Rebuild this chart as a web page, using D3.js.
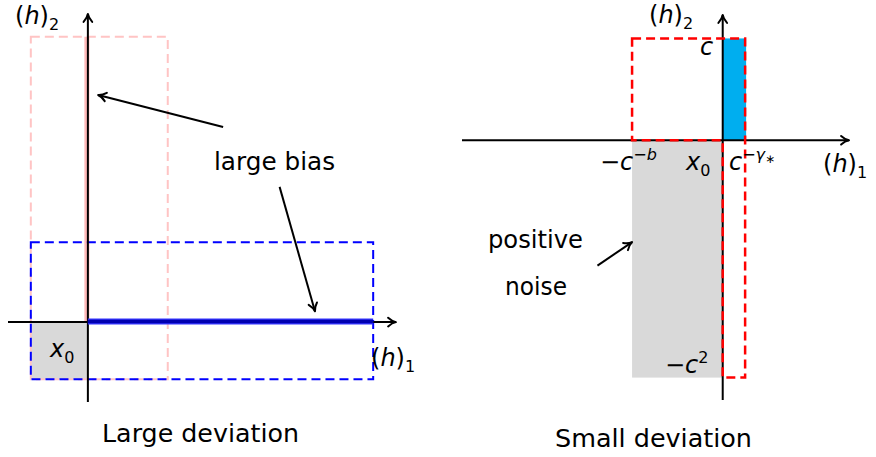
<!DOCTYPE html>
<html><head><meta charset="utf-8">
<script src="https://cdn.jsdelivr.net/npm/d3@7"></script>
<style>
body{margin:0;background:#fff}
svg{display:block}
</style>
</head><body>
<svg id="c" width="876" height="457"></svg>
<script>
// ---------- data (diagram values, in each panel's own units) ----------
// Left panel "Large deviation": unit = side of the x0 box
const leftAxisDomain = [-1.4, 5.4];
const leftGrayBox  = [-1, 0, -1, 0];     // [x0, x1, y0, y1]
const leftBlueBox  = [-1, 5, -1, 1.4];
const leftPinkBox  = [-1, 1.4, -1, 5];
const leftBlueLine = [0, 5];             // on (h)_1 axis
const leftPinkLine = [0, 5];             // on (h)_2 axis
const leftArrows = [[[2.37, 3.42], [0.18, 3.98]], [[3.36, 2.37], [3.98, 0.19]]];

// Right panel "Small deviation": unit = c
const rightAxisX = [-2.56, 1.24];
const rightAxisY = [-2.55, 1.23];
const cVal = 1, negCb = -0.89, cGamma = 0.22, negC2 = -2.33;
const rightArrows = [[[-1.23, -1.23], [-0.89, -1.0]]];

const captions = ["Large deviation", "Small deviation"];

// ---------- drawing ----------
const svg = d3.select("#c");
const FONT = "'DejaVu Sans', 'Liberation Sans', sans-serif";
const FS = 24, FSS = 16;

function arrowHead(g, x1, y1, x2, y2, color, w) {
  const a = Math.atan2(y2 - y1, x2 - x1), L = 9, th = 0.5;
  const p = (ang) => [x2 - L * Math.cos(a + ang), y2 - L * Math.sin(a + ang)];
  const l = p(th), r = p(-th);
  const c1 = [x2 - 0.45 * L * Math.cos(a + th * 0.35), y2 - 0.45 * L * Math.sin(a + th * 0.35)];
  const c2 = [x2 - 0.45 * L * Math.cos(a - th * 0.35), y2 - 0.45 * L * Math.sin(a - th * 0.35)];
  g.append("path")
    .attr("d", `M${l[0]},${l[1]} Q${c1[0]},${c1[1]} ${x2},${y2} Q${c2[0]},${c2[1]} ${r[0]},${r[1]}`)
    .attr("fill", "none").attr("stroke", color).attr("stroke-width", w)
    .attr("stroke-linecap", "round").attr("stroke-linejoin", "round");
}
function arrow(g, x1, y1, x2, y2, w = 2) {
  g.append("line").attr("x1", x1).attr("y1", y1).attr("x2", x2).attr("y2", y2)
    .attr("stroke", "#000").attr("stroke-width", w);
  arrowHead(g, x1, y1, x2, y2, "#000", w);
}
function mathLabel(g, x, y, parts) {
  const t = g.append("text").attr("x", x).attr("y", y).attr("font-size", FS)
    .style("font-family", FONT).attr("fill", "#000");
  let cur = 0;
  parts.forEach(([s, st]) => {
    let off = 0, size = FS, it = false;
    if (st === "i") it = true;
    if (st === "sub" || st === "subi") { off = 6; size = FSS; it = st === "subi"; }
    if (st === "sup" || st === "supi") { off = -10; size = FSS; it = st === "supi"; }
    if (st === "ss") { off = -7; size = 12; }
    const sp = t.append("tspan").attr("dy", off - cur).attr("font-size", size).text(s);
    if (it) sp.attr("font-style", "italic");
    cur = off;
  });
  return t;
}
function plainText(g, x, y, s, len) {
  g.append("text").attr("x", x).attr("y", y).attr("font-size", FS)
    .style("font-family", FONT).attr("fill", "#000")
    .attr("textLength", len).attr("lengthAdjust", "spacingAndGlyphs").text(s);
}
function rectPath(x, y, b) {
  const x0 = x(b[0]), x1 = x(b[1]), y0 = y(b[2]), y1 = y(b[3]);
  return `M${x0},${y1}H${x1}V${y0}H${x0}Z`;
}

// ----- Left panel -----
{
  const x = d3.scaleLinear().domain(leftAxisDomain).range([8, 396]);
  const y = d3.scaleLinear().domain(leftAxisDomain).range([402, 14]);
  const g = svg.append("g");
  g.append("rect").attr("x", x(leftGrayBox[0])).attr("y", y(leftGrayBox[3]))
    .attr("width", x(leftGrayBox[1]) - x(leftGrayBox[0]))
    .attr("height", y(leftGrayBox[2]) - y(leftGrayBox[3])).attr("fill", "#d9d9d9");
  g.append("path").attr("d", rectPath(x, y, leftPinkBox)).attr("fill", "none")
    .attr("stroke", "#ffc4c4").attr("stroke-width", 2).attr("stroke-dasharray", "9,5");
  g.append("line").attr("x1", x(0) - 1).attr("x2", x(0) - 1)
    .attr("y1", y(leftPinkLine[0])).attr("y2", y(leftPinkLine[1]))
    .attr("stroke", "#ffb8b8").attr("stroke-width", 5);
  g.append("path").attr("d", rectPath(x, y, leftBlueBox)).attr("fill", "none")
    .attr("stroke", "#0000ff").attr("stroke-width", 2).attr("stroke-dasharray", "9,5");
  arrow(g, x(leftAxisDomain[0]), y(0), x(leftAxisDomain[1]), y(0));
  arrow(g, x(0), y(leftAxisDomain[0]), x(0), y(leftAxisDomain[1]));
  g.append("line").attr("x1", x(leftBlueLine[0])).attr("x2", x(leftBlueLine[1]))
    .attr("y1", y(0) - 0.5).attr("y2", y(0) - 0.5)
    .attr("stroke", "#3535ff").attr("stroke-width", 6);
  g.append("line").attr("x1", x(leftBlueLine[0])).attr("x2", x(leftBlueLine[1]))
    .attr("y1", y(0) - 0.5).attr("y2", y(0) - 0.5)
    .attr("stroke", "#0000b0").attr("stroke-width", 3.5);
  mathLabel(g, 15, 24, [["(", "r"], ["h", "i"], [")", "r"], ["2", "sub"]]);
  mathLabel(g, 50, 357, [["x", "i"], ["0", "sub"]]);
  mathLabel(g, 371, 366, [["(", "r"], ["h", "i"], [")", "r"], ["1", "sub"]]);
  plainText(g, 214, 170, "large bias", 121);
  leftArrows.forEach(([a, b]) => arrow(g, x(a[0]), y(a[1]), x(b[0]), y(b[1])));
  plainText(g, 102, 442, captions[0], 197);
}

// ----- Right panel -----
{
  const x = d3.scaleLinear().domain(rightAxisX).range([462, 849]);
  const y = d3.scaleLinear().domain(rightAxisY).range([400, 15]);
  const g = svg.append("g");
  g.append("rect").attr("x", x(negCb)).attr("y", y(0))
    .attr("width", x(0) - x(negCb)).attr("height", y(negC2) - y(0)).attr("fill", "#d9d9d9");
  g.append("rect").attr("x", x(0)).attr("y", y(cVal))
    .attr("width", x(cGamma) - x(0) + 1).attr("height", y(0) - y(cVal)).attr("fill", "#00aeef");
  arrow(g, x(rightAxisX[0]), y(0), x(rightAxisX[1]), y(0));
  arrow(g, x(0), y(rightAxisY[0]), x(0), y(rightAxisY[1]));
  const shape = `M${x(negCb)},${y(cVal)}H${x(cGamma)}V${y(negC2)}H${x(0)}V${y(0)}H${x(negCb)}Z`;
  g.append("path").attr("d", shape).attr("fill", "none")
    .attr("stroke", "#ff0000").attr("stroke-width", 2.5).attr("stroke-dasharray", "9,5");
  mathLabel(g, 649, 23, [["(", "r"], ["h", "i"], [")", "r"], ["2", "sub"]]);
  mathLabel(g, 700, 55, [["c", "i"]]);
  mathLabel(g, 600, 170, [["\u2212", "r"], ["c", "i"], ["\u2212", "sup"], ["b", "supi"]]);
  mathLabel(g, 686, 170, [["x", "i"], ["0", "sub"]]);
  mathLabel(g, 729, 170, [["c", "i"], ["\u2212", "sup"], ["\u03b3", "supi"], ["\u2217", "ss"]]);
  mathLabel(g, 823, 172, [["(", "r"], ["h", "i"], [")", "r"], ["1", "sub"]]);
  mathLabel(g, 665, 373, [["\u2212", "r"], ["c", "i"], ["2", "sup"]]);
  plainText(g, 488, 248, "positive", 95);
  plainText(g, 505, 295, "noise", 62);
  rightArrows.forEach(([a, b]) => arrow(g, x(a[0]), y(a[1]), x(b[0]), y(b[1])));
  plainText(g, 555, 447, captions[1], 197);
}
</script>
</body></html>
